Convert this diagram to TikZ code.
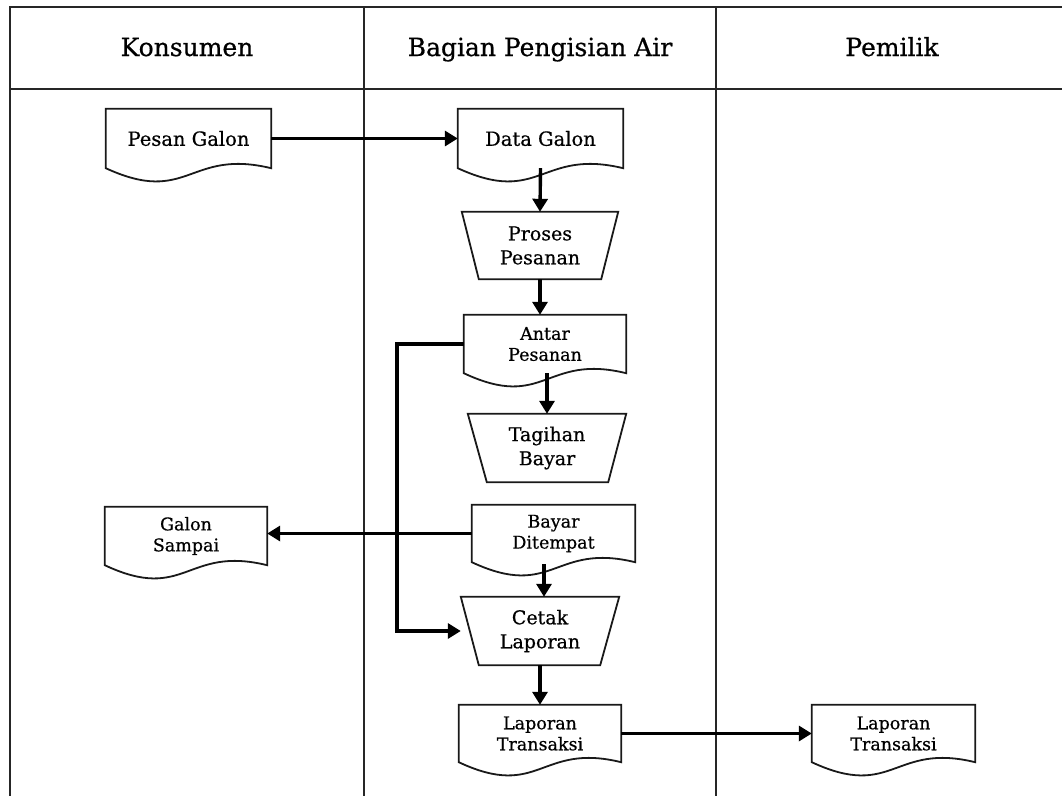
\documentclass[tikz,border=0pt]{standalone}
\usepackage{fontspec}
\setmainfont{DejaVu Serif}[FakeBold=0.6]
\newfontfamily\slabfont{DejaVu Serif}[FakeBold=0.6]
\usetikzlibrary{arrows.meta,calc}
\newcommand{\headfont}{\slabfont\fontsize{25}{30}\selectfont}
\newcommand{\docfont}{\slabfont\fontsize{17.5}{21}\selectfont}
\newcommand{\bigdocfont}{\slabfont\fontsize{19.5}{23}\selectfont}
\newcommand{\trapfont}{\slabfont\fontsize{19}{24}\selectfont}
\newcommand{\drawdoc}[1]{\draw[outline] (#1.south west) -- (#1.north west) -- (#1.north east) -- (#1.south east) .. controls ($(#1.south)+(0,-20)$) and ($(#1.south)+(0,38)$) .. (#1.south west) -- cycle;}
\newcommand{\drawtrap}[3]{\draw[outline] (#1.north west) -- (#1.north east) -- ($(#1.south east)+(-#3,0)$) -- ($(#1.south west)+(#2,0)$) -- cycle;}
\begin{document}
\begin{tikzpicture}[x=1pt,y=-1pt,
  lane/.style={line width=1.1pt, draw=black!85},
  outline/.style={line width=1.8pt, draw=black!90},
  docbox/.style={rectangle, inner sep=0pt, align=center, font=\docfont},
  trapbox/.style={rectangle, inner sep=0pt, align=center, font=\trapfont},
  flow/.style={line width=3.4pt, -{Triangle[length=13pt,width=15pt]}},
  head/.style={anchor=base, font=\headfont}]
\useasboundingbox (0,0) rectangle (1062,796);

% swimlane frame
\draw[lane] (1062,7) -- (10,7) -- (10,796);
\draw[lane, line width=1.4pt] (10,89) -- (1062,89);
\draw[lane] (364,7) -- (364,796);
\draw[lane] (716,7) -- (716,796);

\node[head] (h1) at (187,56) {Konsumen};
\node[head] (h2) at (540,56) {Bagian Pengisian Air};
\node[head] (h3) at (892,56) {Pemilik};

% document nodes
\node[docbox, font=\bigdocfont, minimum width=165pt, minimum height=59pt] (pesan) at (188.5,138.5) {Pesan Galon};
\node[docbox, font=\bigdocfont, minimum width=165pt, minimum height=59pt] (data) at (540.5,138.5) {Data Galon};
\node[docbox, minimum width=162pt, minimum height=58pt] (antar) at (545,344) {Antar\\Pesanan};
\node[docbox, minimum width=163pt, minimum height=57pt] (bayar) at (553.5,533.5) {Bayar\\Ditempat};
\node[docbox, minimum width=162pt, minimum height=58pt] (galon) at (186,536) {Galon\\Sampai};
\node[docbox, minimum width=162pt, minimum height=57pt] (lap1) at (540,733.5) {Laporan\\Transaksi};
\node[docbox, minimum width=163pt, minimum height=57pt] (lap2) at (893.5,733.5) {Laporan\\Transaksi};

% trapezium nodes
\node[trapbox, minimum width=156pt, minimum height=67pt] (proses) at (540,245.5) {Proses\\Pesanan};
\node[trapbox, minimum width=158pt, minimum height=68pt] (tagihan) at (547,448) {Tagihan\\Bayar};
\node[trapbox, minimum width=158pt, minimum height=68pt] (cetak) at (540,631) {Cetak\\Laporan};

\foreach \n in {pesan,data,antar,bayar,galon,lap1,lap2} {\drawdoc{\n}}
\drawtrap{proses}{17}{17}
\drawtrap{tagihan}{19}{18}
\drawtrap{cetak}{18}{19}

% connectors
\draw[flow] (pesan.east) -- (data.west);
\draw[flow] (data.south) -- (proses.north);
\draw[flow] (proses.south) -- (proses.south |- antar.north);
\draw[flow] (tagihan.north |- antar.south) -- (tagihan.north);
\draw[flow] (antar.west) -- ++(-67,0) |- (cetak.west);
\draw[flow] (bayar.west) -- (bayar.west -| galon.east);
\coordinate (bc) at ($(bayar.south)+(-9.5,2)$);
\draw[flow] (bc) -- (bc |- cetak.north);
\draw[flow] (cetak.south) -- (lap1.north);
\draw[flow] (lap1.east) -- (lap2.west);
\end{tikzpicture}
\end{document}
